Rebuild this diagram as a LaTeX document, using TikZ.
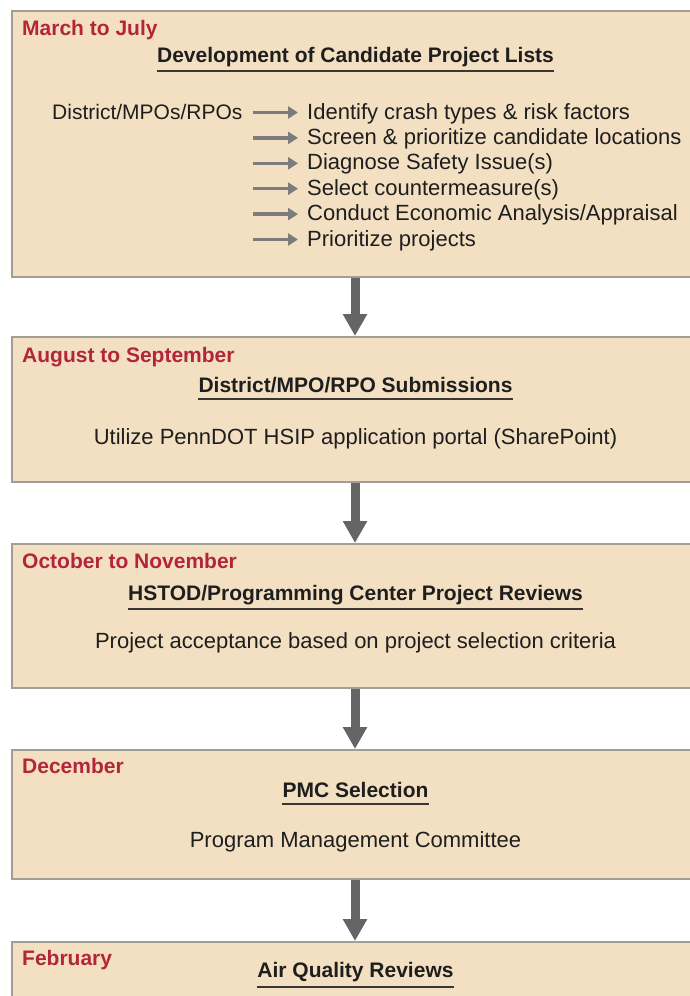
\documentclass[tikz,border=0pt]{standalone}
\usepackage{fontspec}
\setmainfont{Liberation Sans}
\usetikzlibrary{
    positioning,  % Relative positioning
    arrows.meta   % Modern arrow tips
}

\definecolor{boxfill}{HTML}{F3E0C2}
\definecolor{boxline}{HTML}{A39D96}
\definecolor{monthred}{HTML}{B3263A}
\definecolor{arrowgray}{HTML}{656565}
\definecolor{ulinegray}{HTML}{3B3631}
\definecolor{inkblack}{HTML}{1E1E1E}

\tikzset{
    stagebox/.style={draw=boxline, line width=2pt, fill=boxfill, anchor=north west,
        minimum width=720pt, inner sep=0pt},
    month/.style={anchor=base west, inner sep=0pt, text=monthred,
        font=\fontsize{21}{25}\selectfont\bfseries},
    heading/.style={anchor=base, inner sep=0pt, text=inkblack,
        font=\fontsize{21}{25}\selectfont\bfseries},
    body/.style={anchor=base, inner sep=0pt, text=inkblack,
        font=\fontsize{22}{26}\selectfont},
    task/.style={body, anchor=base west},
    uline/.style={draw=ulinegray, line width=2pt},
    bigarrow/.style={draw=arrowgray, line width=9pt, -{Triangle[width=23pt,length=22pt]}},
    smallarrow/.style={draw=arrowgray!85, line width=3.5pt, -{Triangle[width=12pt,length=10pt]}}
}

\begin{document}
\begin{tikzpicture}[x=1pt, y=-1pt]
    \useasboundingbox (0,0) rectangle (690,996);
    \clip (0,0) rectangle (690,996);

    % stage boxes
    \node[stagebox, minimum height=266pt] (devbox) at (11,10) {};
    \node[stagebox, minimum height=145pt] (subbox) at (11,336) {};
    \node[stagebox, minimum height=144pt] (revbox) at (11,543) {};
    \node[stagebox, minimum height=129pt] (pmcbox) at (11,749) {};
    \node[stagebox, minimum height=120pt] (airbox) at (11,941) {};

    % arrows between stages
    \coordinate (spine) at (355,0);
    \draw[bigarrow] (devbox.south -| spine) -- (subbox.north -| spine);
    \draw[bigarrow] (subbox.south -| spine) -- (revbox.north -| spine);
    \draw[bigarrow] (revbox.south -| spine) -- (pmcbox.north -| spine);
    \draw[bigarrow] (pmcbox.south -| spine) -- (airbox.north -| spine);

    % March to July
    \node[month] (mar) at (22,35) {March to July};
    \node[heading] (devtitle) at (355.5,62) {Development of Candidate Project Lists};
    \draw[uline] ([yshift=-9pt]devtitle.base west) -- ([yshift=-9pt]devtitle.base east);
    \node[task, font=\fontsize{21}{26}\selectfont] (who) at (52,119) {District/MPOs/RPOs};
    \node[task] (item1) at (307,119) {Identify crash types \& risk factors};
    \node[task] (item2) at (307,144.4) {Screen \& prioritize candidate locations};
    \node[task] (item3) at (307,169.8) {Diagnose Safety Issue(s)};
    \node[task] (item4) at (307,195.2) {Select countermeasure(s)};
    \node[task] (item5) at (307,220.6) {Conduct Economic Analysis/Appraisal};
    \node[task] (item6) at (307,246) {Prioritize projects};
    \draw[smallarrow] ([shift={(-54pt,6.5pt)}]item1.base west) -- ([shift={(-9pt,6.5pt)}]item1.base west);
    \draw[smallarrow] ([shift={(-54pt,6.5pt)}]item2.base west) -- ([shift={(-9pt,6.5pt)}]item2.base west);
    \draw[smallarrow] ([shift={(-54pt,6.5pt)}]item3.base west) -- ([shift={(-9pt,6.5pt)}]item3.base west);
    \draw[smallarrow] ([shift={(-54pt,6.5pt)}]item4.base west) -- ([shift={(-9pt,6.5pt)}]item4.base west);
    \draw[smallarrow] ([shift={(-54pt,6.5pt)}]item5.base west) -- ([shift={(-9pt,6.5pt)}]item5.base west);
    \draw[smallarrow] ([shift={(-54pt,6.5pt)}]item6.base west) -- ([shift={(-9pt,6.5pt)}]item6.base west);

    % August to September
    \node[month] (aug) at (22,362) {August to September};
    \node[heading] (subtitle) at (355.5,392) {District/MPO/RPO Submissions};
    \draw[uline] ([yshift=-7pt]subtitle.base west) -- ([yshift=-7pt]subtitle.base east);
    \node[body] (portal) at (355.5,444) {Utilize PennDOT HSIP application portal (SharePoint)};

    % October to November
    \node[month] (oct) at (22,568) {October to November};
    \node[heading] (revtitle) at (355.5,600) {HSTOD/Programming Center Project Reviews};
    \draw[uline] ([yshift=-9pt]revtitle.base west) -- ([yshift=-9pt]revtitle.base east);
    \node[body] (criteria) at (355.5,648) {Project acceptance based on project selection criteria};

    % December
    \node[month] (dec) at (22,773) {December};
    \node[heading] (pmctitle) at (355.5,797) {PMC Selection};
    \draw[uline] ([yshift=-7pt]pmctitle.base west) -- ([yshift=-7pt]pmctitle.base east);
    \node[body] (committee) at (355.5,847) {Program Management Committee};

    % February
    \node[month] (feb) at (22,965) {February};
    \node[heading] (airtitle) at (355.5,977) {Air Quality Reviews};
    \draw[uline] ([yshift=-10pt]airtitle.base west) -- ([yshift=-10pt]airtitle.base east);
\end{tikzpicture}
\end{document}
